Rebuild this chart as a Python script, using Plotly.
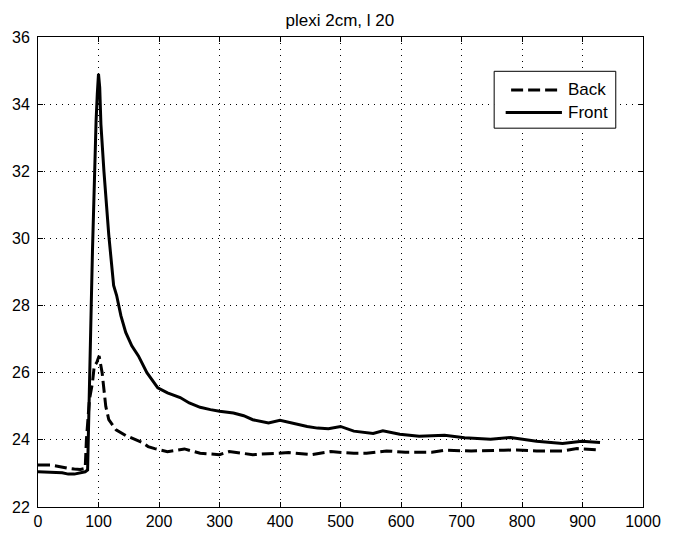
import plotly.graph_objects as go

# Front sensor
front_x = [0, 10, 20, 30, 40, 50, 60, 70, 78, 82, 84, 86, 88, 90, 92, 94, 96, 98, 100, 102,
           104, 109, 117, 125, 130, 137, 145, 155, 166, 180, 198, 214, 235, 250, 268, 285,
           300, 323, 340, 355, 381, 400, 425, 445, 462, 480, 500, 522, 554, 570, 598, 630,
           672, 705, 748, 781, 824, 867, 899, 929]
front_y = [23.05, 23.05, 23.04, 23.03, 23.02, 22.98, 22.98, 23.02, 23.05, 23.1, 24.5, 26.0,
           28.0, 29.6, 31.0, 32.3, 33.5, 34.3, 34.9, 34.5, 33.4, 32.0, 30.1, 28.6, 28.3, 27.7,
           27.2, 26.8, 26.5, 26.0, 25.55, 25.4, 25.26, 25.1, 24.97, 24.9, 24.85, 24.8, 24.72,
           24.6, 24.5, 24.58, 24.47, 24.4, 24.35, 24.33, 24.4, 24.26, 24.19, 24.27, 24.17,
           24.11, 24.14, 24.06, 24.02, 24.07, 23.96, 23.89, 23.96, 23.92]

# Back sensor
back_x = [0, 10, 20, 30, 40, 50, 60, 70, 78, 80, 85, 90, 93, 97, 101, 106, 112, 117, 129, 145,
          171, 182, 193, 214, 242, 268, 300, 316, 355, 392, 414, 452, 484, 505, 522, 543, 576,
          607, 651, 672, 716, 770, 791, 824, 867, 891, 929]
back_y = [23.25, 23.26, 23.25, 23.22, 23.18, 23.15, 23.13, 23.12, 23.15, 24.0, 25.2, 25.7,
          26.2, 26.3, 26.5, 26.0, 25.0, 24.6, 24.3, 24.13, 23.93, 23.8, 23.74, 23.65, 23.73,
          23.6, 23.56, 23.65, 23.56, 23.6, 23.62, 23.56, 23.65, 23.62, 23.6, 23.6, 23.67,
          23.63, 23.63, 23.69, 23.67, 23.69, 23.7, 23.67, 23.67, 23.74, 23.7]

series_names = ["Back", "Front"]

x_ticks = list(range(0, 1001, 100))
y_ticks = list(range(22, 37, 2))

FONT = "Liberation Sans, Arial, sans-serif"
DASH = "12px,5px"
LW = 3

fig = go.Figure()
fig.add_trace(go.Scatter(x=back_x, y=back_y, mode="lines", name=series_names[0],
                         line=dict(color="black", width=LW, dash=DASH)))
fig.add_trace(go.Scatter(x=front_x, y=front_y, mode="lines", name=series_names[1],
                         line=dict(color="black", width=LW)))

axis_common = dict(
    showline=True, linecolor="black", linewidth=1, mirror="allticks",
    ticks="inside", ticklen=5, tickcolor="black",
    showgrid=True, gridcolor="black", gridwidth=1, griddash="1px,5px",
    zeroline=False, tickfont=dict(family=FONT, size=16, color="black"),
)

fig.update_xaxes(range=[0, 1000], tickvals=x_ticks, ticktext=[str(v) for v in x_ticks],
                 **axis_common)
fig.update_yaxes(range=[22, 36], tickvals=y_ticks, ticktext=[str(v) for v in y_ticks],
                 ticklabelstandoff=4, **axis_common)

# Legend box drawn in the MATLAB style (long line samples)
lx0, lx1, ly0, ly1 = 0.754, 0.955, 0.806, 0.927
fig.add_shape(type="rect", xref="paper", yref="paper", x0=lx0, x1=lx1, y0=ly0, y1=ly1,
              line=dict(color="black", width=1), fillcolor="white", layer="above")
fig.add_shape(type="line", xref="paper", yref="paper", x0=0.782, x1=0.866, y0=0.8875, y1=0.8875,
              line=dict(color="black", width=LW, dash=DASH), layer="above")
fig.add_shape(type="line", xref="paper", yref="paper", x0=0.773, x1=0.866, y0=0.8396, y1=0.8396,
              line=dict(color="black", width=LW), layer="above")
for name, yy in zip(series_names, [0.8875, 0.8396]):
    fig.add_annotation(xref="paper", yref="paper", x=0.873, y=yy, text=name, showarrow=False,
                       xanchor="left", yanchor="middle",
                       font=dict(family=FONT, size=17, color="black"))

fig.update_layout(
    width=673, height=542,
    margin=dict(l=37, r=18, t=37, b=25),
    paper_bgcolor="white", plot_bgcolor="white",
    title=dict(text="plexi 2cm, l 20", x=0.505, xanchor="center", y=0.963, yanchor="middle",
               font=dict(family=FONT, size=17, color="black")),
    showlegend=False,
)

fig.write_html("out.html")
